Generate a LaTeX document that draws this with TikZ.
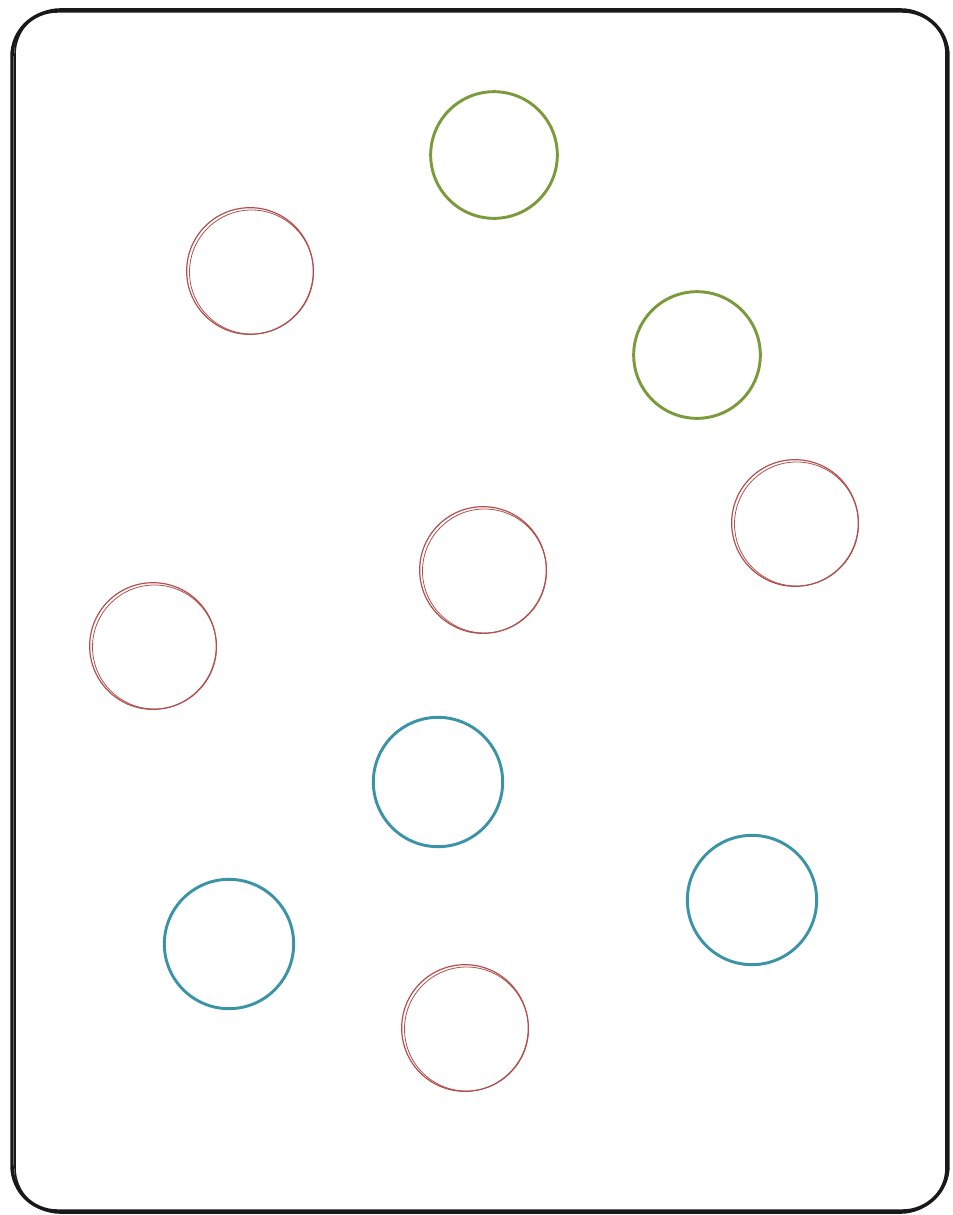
\documentclass[tikz,border=0pt]{standalone}
\usetikzlibrary{shapes.geometric}
\definecolor{cgreen}{HTML}{7A9A3C}
\definecolor{cred}{HTML}{B0504E}
\definecolor{cblue}{HTML}{3B93A8}
\tikzset{
  ball/.style={circle, draw, inner sep=0pt, minimum size=95pt},
  thickball/.style={ball, line width=2.2pt},
  greenball/.style={thickball, draw=cgreen},
  blueball/.style={thickball, draw=cblue, minimum size=97pt},
  redball/.style={ball, line width=0.9pt, draw=cred},
  redtrace/.style={cred, line width=0.6pt},
  frame/.style={draw=black!90, line width=2.6pt, rounded corners=34pt}
}
\begin{document}
\begin{tikzpicture}[x=0.75pt,y=-0.75pt]
\useasboundingbox (0,0) rectangle (953,1215);
\draw[frame] (12,11) rectangle (948,1211);
\draw[frame, line width=1.2pt] (15,9) rectangle (946,1213);
\node[greenball] (g1) at (494,155) {};
\node[greenball] (g2) at (697,355) {};
\node[redball] (r1) at (250,271) {};
\node[redball] (r2) at (795,523) {};
\node[redball] (r3) at (483,570) {};
\node[redball] (r4) at (153,646) {};
\node[redball] (r5) at (465,1028) {};
\foreach \n in {r1,r2,r3,r4,r5}
  \draw[redtrace] ([shift={(1.5,1)}]\n.center) circle[radius=46.5pt];
\node[blueball] (b1) at (438,782) {};
\node[blueball] (b2) at (752,900) {};
\node[blueball] (b3) at (229,944) {};
\end{tikzpicture}
\end{document}
